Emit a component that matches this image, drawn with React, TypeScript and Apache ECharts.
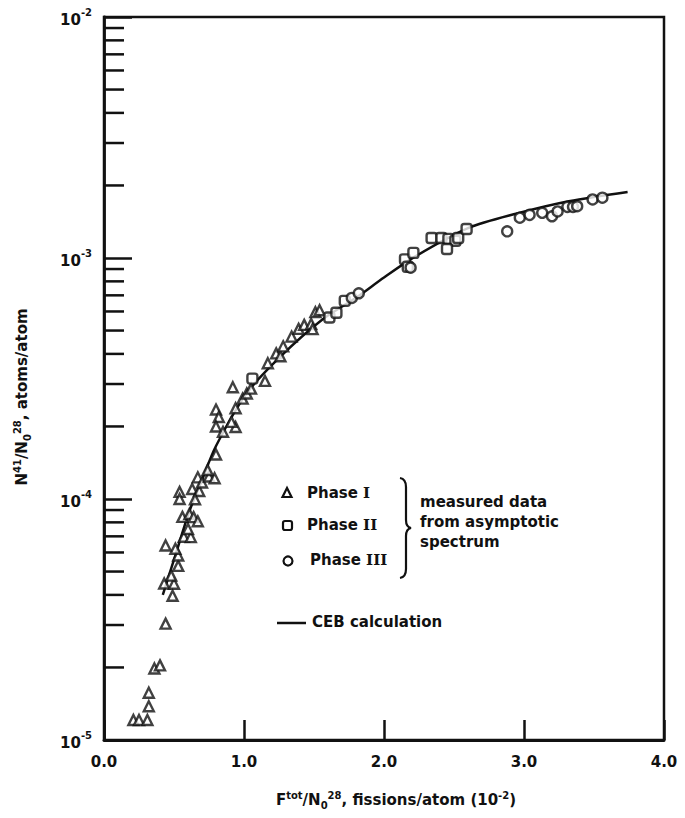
import React, { useEffect, useRef } from "react";
import * as echarts from "echarts";

// Measured N-41 / N0-28 ratios vs. total fission fluence, per irradiation phase
const phaseI: [number, number][] = [
  [0.21, 1.21e-5], [0.25, 1.21e-5], [0.31, 1.21e-5], [0.32, 1.38e-5], [0.32, 1.57e-5],
  [0.36, 1.98e-5], [0.40, 2.04e-5], [0.44, 3.04e-5],
  [0.43, 4.46e-5], [0.50, 4.45e-5], [0.49, 3.97e-5], [0.48, 4.81e-5], [0.53, 5.28e-5],
  [0.53, 5.83e-5], [0.51, 6.22e-5], [0.44, 6.41e-5],
  [0.57, 6.97e-5], [0.62, 6.95e-5], [0.60, 7.51e-5], [0.56, 8.43e-5], [0.61, 8.67e-5],
  [0.64, 8.41e-5], [0.67, 8.08e-5],
  [0.54, 1.07e-4], [0.54, 1.0e-4], [0.63, 1.10e-4], [0.68, 1.08e-4], [0.65, 9.98e-5],
  [0.67, 1.23e-4], [0.70, 1.17e-4], [0.75, 1.24e-4], [0.79, 1.22e-4], [0.74, 1.32e-4],
  [0.80, 1.53e-4],
  [0.80, 2.35e-4], [0.82, 2.19e-4], [0.80, 2.0e-4], [0.85, 1.90e-4], [0.94, 1.99e-4],
  [0.91, 2.09e-4], [0.92, 2.91e-4], [0.94, 2.38e-4], [0.99, 2.61e-4], [1.02, 2.74e-4],
  [1.05, 2.87e-4], [1.15, 3.09e-4], [1.17, 3.66e-4], [1.23, 4.02e-4], [1.26, 3.91e-4],
  [1.28, 4.30e-4], [1.34, 4.72e-4], [1.39, 5.08e-4], [1.43, 5.28e-4], [1.48, 5.32e-4],
  [1.51, 5.96e-4], [1.54, 6.07e-4], [1.49, 5.07e-4],
];

const phaseII: [number, number][] = [
  [1.06, 3.16e-4], [1.61, 5.66e-4], [1.66, 5.93e-4], [1.72, 6.64e-4],
  [2.15, 9.87e-4], [2.21, 1.05e-3], [2.17, 9.2e-4], [2.34, 1.21e-3], [2.41, 1.21e-3],
  [2.46, 1.20e-3], [2.51, 1.18e-3], [2.45, 1.09e-3], [2.53, 1.21e-3], [2.59, 1.32e-3],
];

const phaseIII: [number, number][] = [
  [1.77, 6.83e-4], [1.82, 7.14e-4], [2.19, 9.12e-4], [2.88, 1.29e-3], [2.97, 1.47e-3],
  [3.04, 1.51e-3], [3.13, 1.54e-3], [3.20, 1.49e-3], [3.24, 1.56e-3], [3.31, 1.63e-3],
  [3.35, 1.63e-3], [3.38, 1.64e-3], [3.49, 1.75e-3], [3.56, 1.78e-3],
];

// CEB calculation
const cebCurve: [number, number][] = [
  [0.42, 4.0e-5], [0.5, 5.6e-5], [0.61, 8.9e-5], [0.7, 1.2e-4], [0.8, 1.66e-4],
  [1.02, 2.75e-4], [1.26, 3.9e-4], [1.56, 5.56e-4], [1.8, 6.84e-4], [2.0, 8.3e-4],
  [2.23, 1.02e-3], [2.6, 1.33e-3], [2.95, 1.53e-3], [3.32, 1.72e-3], [3.74, 1.88e-3],
];

// log-axis minor tick positions (2..9 per decade)
const minorTickValues: number[] = [
  2e-5, 3e-5, 4e-5, 5e-5, 6e-5, 7e-5, 8e-5, 9e-5,
  2e-4, 3e-4, 4e-4, 5e-4, 6e-4, 7e-4, 8e-4, 9e-4,
  2e-3, 3e-3, 4e-3, 5e-3, 6e-3, 7e-3, 8e-3, 9e-3,
];

const legendRows = ["Phase ", "Phase ", "Phase "];
const romanNumerals = ["I", "II", "III"];
const noteLines = ["measured data", "from asymptotic", "spectrum"];

const FONT = "DejaVu Sans";
const INK = "#111";

const braceD =
  "M0,0 Q6,1 6,9 L6,42 Q6,49 11,50 Q6,51 6,58 L6,91 Q6,99 0,100";

export default function App() {
  const ref = useRef<HTMLDivElement>(null);

  useEffect(() => {
    document.body.style.margin = "0";
    echarts.graphic.registerShape("brace", echarts.graphic.extendPath(braceD, {}));
    const chart = echarts.init(ref.current!, undefined, { renderer: "svg" });

    const supRich = {
      sup: { fontSize: 10, fontFamily: FONT, fontWeight: "bold", verticalAlign: "top", lineHeight: 20, color: INK },
      sub: { fontSize: 10, fontFamily: FONT, fontWeight: "bold", verticalAlign: "bottom", lineHeight: 20, color: INK },
      rom: { fontSize: 15, fontFamily: "DejaVu Serif", fontWeight: "bold", lineHeight: 20, color: INK },
    };

    const hollow = (color: string) => ({ color: "#fff", borderColor: color, borderWidth: 2.4 });

    chart.setOption({
      animation: false,
      backgroundColor: "#fff",
      grid: {
        left: 104, right: 21, top: 17, bottom: 78,
        show: true, borderColor: INK, borderWidth: 2.5,
      },
      xAxis: {
        type: "value", min: 0, max: 4, interval: 1,
        axisLine: { lineStyle: { color: INK, width: 2.8 } },
        axisTick: { inside: true, length: 20, lineStyle: { color: INK, width: 2.5 } },
        splitLine: { show: false },
        axisLabel: {
          formatter: (v: number) => v.toFixed(1),
          fontFamily: FONT, fontWeight: "bold", fontSize: 15, color: INK, margin: 14,
        },
      },
      yAxis: {
        type: "log", logBase: 10, min: 1e-5, max: 1e-2,
        axisLine: { lineStyle: { color: INK, width: 2.8 } },
        axisTick: { inside: true, length: 28, lineStyle: { color: INK, width: 2.5 } },
        minorTick: { show: false },
        splitLine: { show: false },
        axisLabel: {
          formatter: (v: number) => `{b|10}{s|${Math.round(Math.log10(v))}}`,
          margin: 12,
          rich: {
            b: { fontFamily: FONT, fontWeight: "bold", fontSize: 15, color: INK, lineHeight: 20, verticalAlign: "bottom" },
            s: { fontFamily: FONT, fontWeight: "bold", fontSize: 10, color: INK, lineHeight: 20, verticalAlign: "top" },
          },
        },
      },
      series: [
        {
          type: "custom",
          name: "minor ticks",
          silent: true,
          data: minorTickValues.map((v) => [0, v]),
          renderItem: (_params: any, api: any) => {
            const p = api.coord([0, api.value(1)]);
            return {
              type: "line",
              shape: { x1: p[0], y1: p[1], x2: p[0] + 20, y2: p[1] },
              style: { stroke: INK, lineWidth: 2.5 },
            };
          },
          z: 3,
        },
        {
          type: "line",
          name: "CEB calculation",
          data: cebCurve,
          smooth: 0.3,
          showSymbol: false,
          lineStyle: { color: INK, width: 2.5 },
          z: 2,
        },
        {
          type: "scatter", name: "Phase I", data: phaseI,
          symbol: "triangle", symbolSize: 10, itemStyle: hollow(INK), z: 4,
        },
        {
          type: "scatter", name: "Phase II", data: phaseII,
          symbol: "roundRect", symbolSize: 10, itemStyle: hollow(INK), z: 4,
        },
        {
          type: "scatter", name: "Phase III", data: phaseIII,
          symbol: "circle", symbolSize: 10, itemStyle: hollow(INK), z: 4,
        },
      ],
      graphic: [
        // axis titles
        {
          type: "text", x: 22, y: 397, rotation: Math.PI / 2,
          style: {
            text: "N{sup|41}/N{sub|0}{sup|28}, atoms/atom",
            rich: supRich, fontFamily: FONT, fontWeight: "bold", fontSize: 15, lineHeight: 20,
            fill: INK, align: "center", verticalAlign: "middle",
          },
        },
        {
          type: "text", x: 396, y: 800,
          style: {
            text: "F{sup|tot}/N{sub|0}{sup|28}, fissions/atom (10{sup|-2})",
            rich: supRich, fontFamily: FONT, fontWeight: "bold", fontSize: 15, lineHeight: 20,
            fill: INK, align: "center", verticalAlign: "middle",
          },
        },
        // legend markers
        {
          type: "polygon",
          shape: { points: [[287, 488], [282.5, 497], [291.5, 497]] },
          style: { fill: "#fff", stroke: INK, lineWidth: 2.2 },
        },
        {
          type: "rect", shape: { x: 283, y: 521, width: 9, height: 9, r: 2 },
          style: { fill: "#fff", stroke: INK, lineWidth: 2.2 },
        },
        {
          type: "circle", shape: { cx: 288, cy: 561, r: 4.5 },
          style: { fill: "#fff", stroke: INK, lineWidth: 2.2 },
        },
        ...legendRows.map((t, i) => ({
          type: "text", x: i === 2 ? 310 : 307, y: [493, 525, 560][i],
          style: {
            text: `${t}{rom|${romanNumerals[i]}}`, rich: supRich,
            fontFamily: FONT, fontWeight: "bold", fontSize: 15, lineHeight: 20,
            fill: INK, align: "left", verticalAlign: "middle",
          },
        })),
        {
          type: "brace", x: 400, y: 478,
          style: { fill: "none", stroke: INK, lineWidth: 2.2 },
        },
        ...noteLines.map((t, i) => ({
          type: "text", x: 420, y: [502, 522, 542][i],
          style: {
            text: t, fontFamily: FONT, fontWeight: "bold", fontSize: 15,
            fill: INK, align: "left", verticalAlign: "middle",
          },
        })),
        {
          type: "line", shape: { x1: 277, y1: 623, x2: 306, y2: 623 },
          style: { stroke: INK, lineWidth: 2.5 },
        },
        {
          type: "text", x: 312, y: 622,
          style: {
            text: "CEB calculation", fontFamily: FONT, fontWeight: "bold", fontSize: 15,
            fill: INK, align: "left", verticalAlign: "middle",
          },
        },
      ],
    });

    return () => chart.dispose();
  }, []);

  return <div ref={ref} style={{ width: 685, height: 818 }} />;
}
